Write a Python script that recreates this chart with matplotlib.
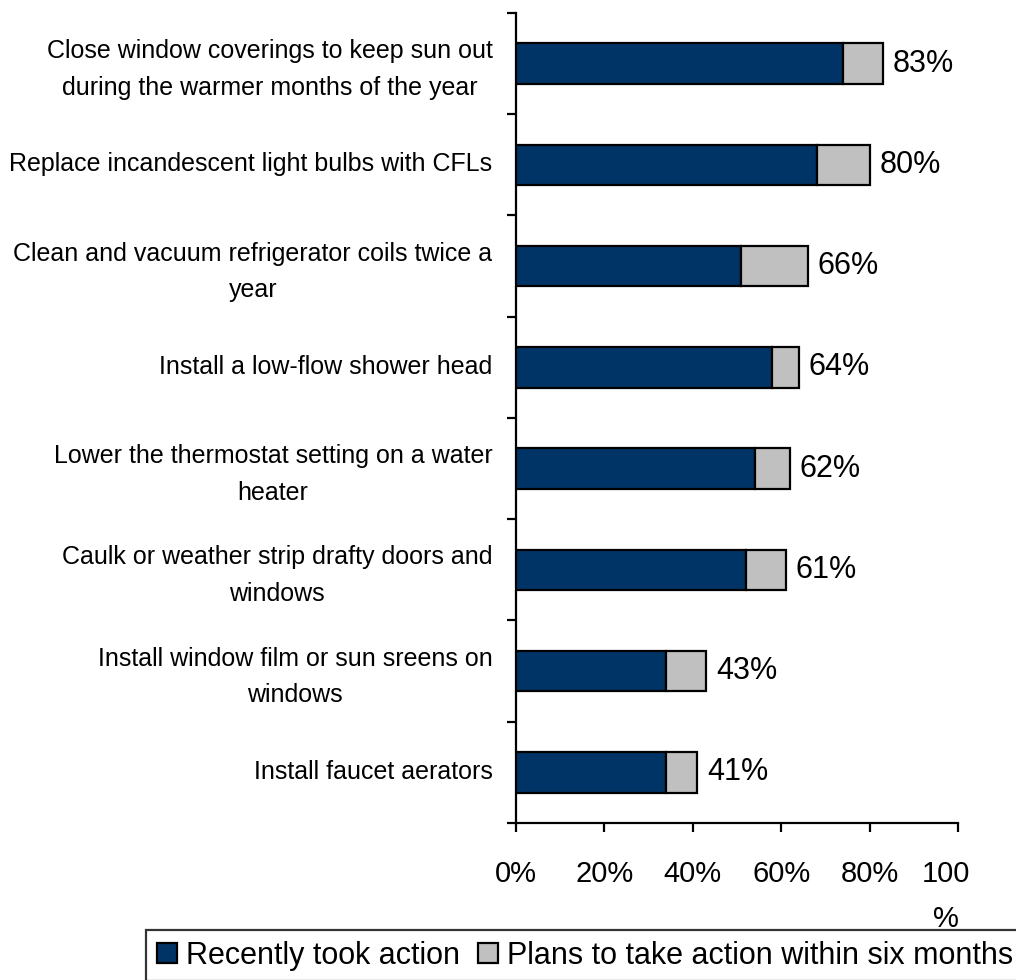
import matplotlib
matplotlib.use("Agg")
import matplotlib.pyplot as plt
from matplotlib.transforms import ScaledTranslation
import numpy as np

categories = [
    "Close window coverings to keep sun out\nduring the warmer months of the year",
    "Replace incandescent light bulbs with CFLs",
    "Clean and vacuum refrigerator coils twice a\nyear",
    "Install a low-flow shower head",
    "Lower the thermostat setting on a water\nheater",
    "Caulk or weather strip drafty doors and\nwindows",
    "Install window film or sun sreens on\nwindows",
    "Install faucet aerators",
]
recently_took_action = [74, 68, 51, 58, 54, 52, 34, 34]
plans_within_six_months = [9, 12, 15, 6, 8, 9, 9, 7]
x_ticks = [0, 20, 40, 60, 80, 100]
x_tick_labels = ["0%", "20%", "40%", "60%", "80%", "100\n%"]
series_names = ["Recently took action", "Plans to take action within six months"]

plt.rcParams['font.family'] = ['Liberation Sans', 'DejaVu Sans']

W, H = 1016, 980
fig = plt.figure(figsize=(W / 100, H / 100), dpi=100)
ax = fig.add_axes([516 / W, 1 - 823 / H, (958 - 516) / W, (823 - 13) / H])

y = np.arange(len(categories))
dark = '#003366'
gray = '#C0C0C0'
b1 = ax.barh(y, recently_took_action, height=0.4, color=dark, edgecolor='black',
             linewidth=1.6, label=series_names[0], zorder=3)
b2 = ax.barh(y, plans_within_six_months, left=recently_took_action, height=0.4,
             color=gray, edgecolor='black', linewidth=1.6, label=series_names[1], zorder=3)

totals = [a + b for a, b in zip(recently_took_action, plans_within_six_months)]
for yi, t in zip(y, totals):
    ax.annotate(f"{t}%", xy=(t, yi), xytext=(7, 0), textcoords='offset points',
                ha='left', va='center', fontsize=22, color='black')

ax.set_xlim(0, 100)
ax.set_ylim(len(categories) - 0.5, -0.5)

for s in ['top', 'right']:
    ax.spines[s].set_visible(False)
for s in ['left', 'bottom']:
    ax.spines[s].set_linewidth(1.6)
    ax.spines[s].set_color('black')

ax.set_xticks(x_ticks)
ax.set_xticklabels(x_tick_labels, fontsize=21, linespacing=1.76)
ax.tick_params(axis='x', direction='out', length=6.5, width=1.6, pad=20)

ax.set_yticks(np.arange(len(categories) + 1) - 0.5)
ax.set_yticklabels([])
ax.tick_params(axis='y', which='major', direction='out', length=6.5, width=1.6)
ax.set_yticks(y, minor=True)
ax.set_yticklabels(categories, minor=True, fontsize=18, linespacing=1.66,
                   multialignment='center')
ax.tick_params(axis='y', which='minor', length=0, pad=17)
for t in ax.get_yticklabels(minor=True):
    t.set_transform(t.get_transform() + ScaledTranslation(0, 3 / 100, fig.dpi_scale_trans))

# Shift the wrapped "100 %" label slightly left as in the reference
lbl = ax.get_xticklabels()[-1]
lbl.set_transform(lbl.get_transform() + ScaledTranslation(-12 / 100, 0, fig.dpi_scale_trans))

leg = fig.legend(handles=[b1, b2], labels=series_names, ncol=2, loc='upper left',
                 bbox_to_anchor=(146 / W, 1 - 930 / H), bbox_transform=fig.transFigure,
                 fontsize=22, frameon=True, fancybox=False, borderaxespad=0,
                 handlelength=0.65, handleheight=0.65, handletextpad=0.3,
                 columnspacing=0.6, borderpad=0.35)
leg.get_frame().set_edgecolor('black')
leg.get_frame().set_linewidth(1.6)

fig.savefig('out.png', dpi=100)
